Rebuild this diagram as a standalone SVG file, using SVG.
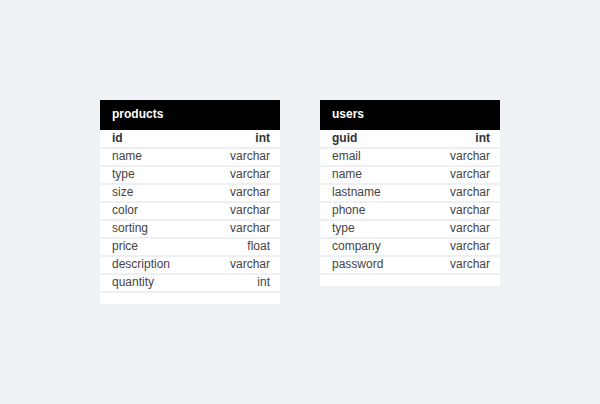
<svg xmlns="http://www.w3.org/2000/svg" width="600" height="404" viewBox="0 0 600 404">
<style>
.bg{fill:#eef2f5}
.card{fill:#ffffff}
.hdr{fill:#000000}
.sep{stroke:#eef1f4;stroke-width:2}
.title{font-family:"Liberation Sans",Arial,sans-serif;font-size:12px;font-weight:bold;fill:#ffffff}
.f{font-family:"Liberation Sans",Arial,sans-serif;font-size:12px;fill:#444444}
.k{font-weight:bold;fill:#333333}
.t{text-anchor:end}
</style>
<rect class="bg" x="0" y="0" width="600" height="404"/>
<g id="products">
<rect class="card" x="100" y="100" width="180" height="204"/>
<rect class="hdr" x="100" y="100" width="180" height="30"/>
<text class="title" x="112" y="118">products</text>
<g class="sep">
<line x1="100" y1="148" x2="280" y2="148"/>
<line x1="100" y1="166" x2="280" y2="166"/>
<line x1="100" y1="184" x2="280" y2="184"/>
<line x1="100" y1="202" x2="280" y2="202"/>
<line x1="100" y1="220" x2="280" y2="220"/>
<line x1="100" y1="238" x2="280" y2="238"/>
<line x1="100" y1="256" x2="280" y2="256"/>
<line x1="100" y1="274" x2="280" y2="274"/>
<line x1="100" y1="292" x2="280" y2="292"/>
</g>
<text class="f k" x="112" y="142">id</text><text class="f k t" x="270" y="142">int</text>
<text class="f" x="112" y="160">name</text><text class="f t" x="270" y="160">varchar</text>
<text class="f" x="112" y="178">type</text><text class="f t" x="270" y="178">varchar</text>
<text class="f" x="112" y="196">size</text><text class="f t" x="270" y="196">varchar</text>
<text class="f" x="112" y="214">color</text><text class="f t" x="270" y="214">varchar</text>
<text class="f" x="112" y="232">sorting</text><text class="f t" x="270" y="232">varchar</text>
<text class="f" x="112" y="250">price</text><text class="f t" x="270" y="250">float</text>
<text class="f" x="112" y="268">description</text><text class="f t" x="270" y="268">varchar</text>
<text class="f" x="112" y="286">quantity</text><text class="f t" x="270" y="286">int</text>
</g>
<g id="users">
<rect class="card" x="320" y="100" width="180" height="186"/>
<rect class="hdr" x="320" y="100" width="180" height="30"/>
<text class="title" x="332" y="118">users</text>
<g class="sep">
<line x1="320" y1="148" x2="500" y2="148"/>
<line x1="320" y1="166" x2="500" y2="166"/>
<line x1="320" y1="184" x2="500" y2="184"/>
<line x1="320" y1="202" x2="500" y2="202"/>
<line x1="320" y1="220" x2="500" y2="220"/>
<line x1="320" y1="238" x2="500" y2="238"/>
<line x1="320" y1="256" x2="500" y2="256"/>
<line x1="320" y1="274" x2="500" y2="274"/>
</g>
<text class="f k" x="332" y="142">guid</text><text class="f k t" x="490" y="142">int</text>
<text class="f" x="332" y="160">email</text><text class="f t" x="490" y="160">varchar</text>
<text class="f" x="332" y="178">name</text><text class="f t" x="490" y="178">varchar</text>
<text class="f" x="332" y="196">lastname</text><text class="f t" x="490" y="196">varchar</text>
<text class="f" x="332" y="214">phone</text><text class="f t" x="490" y="214">varchar</text>
<text class="f" x="332" y="232">type</text><text class="f t" x="490" y="232">varchar</text>
<text class="f" x="332" y="250">company</text><text class="f t" x="490" y="250">varchar</text>
<text class="f" x="332" y="268">password</text><text class="f t" x="490" y="268">varchar</text>
</g>
<g id="connectors"/>
</svg>
